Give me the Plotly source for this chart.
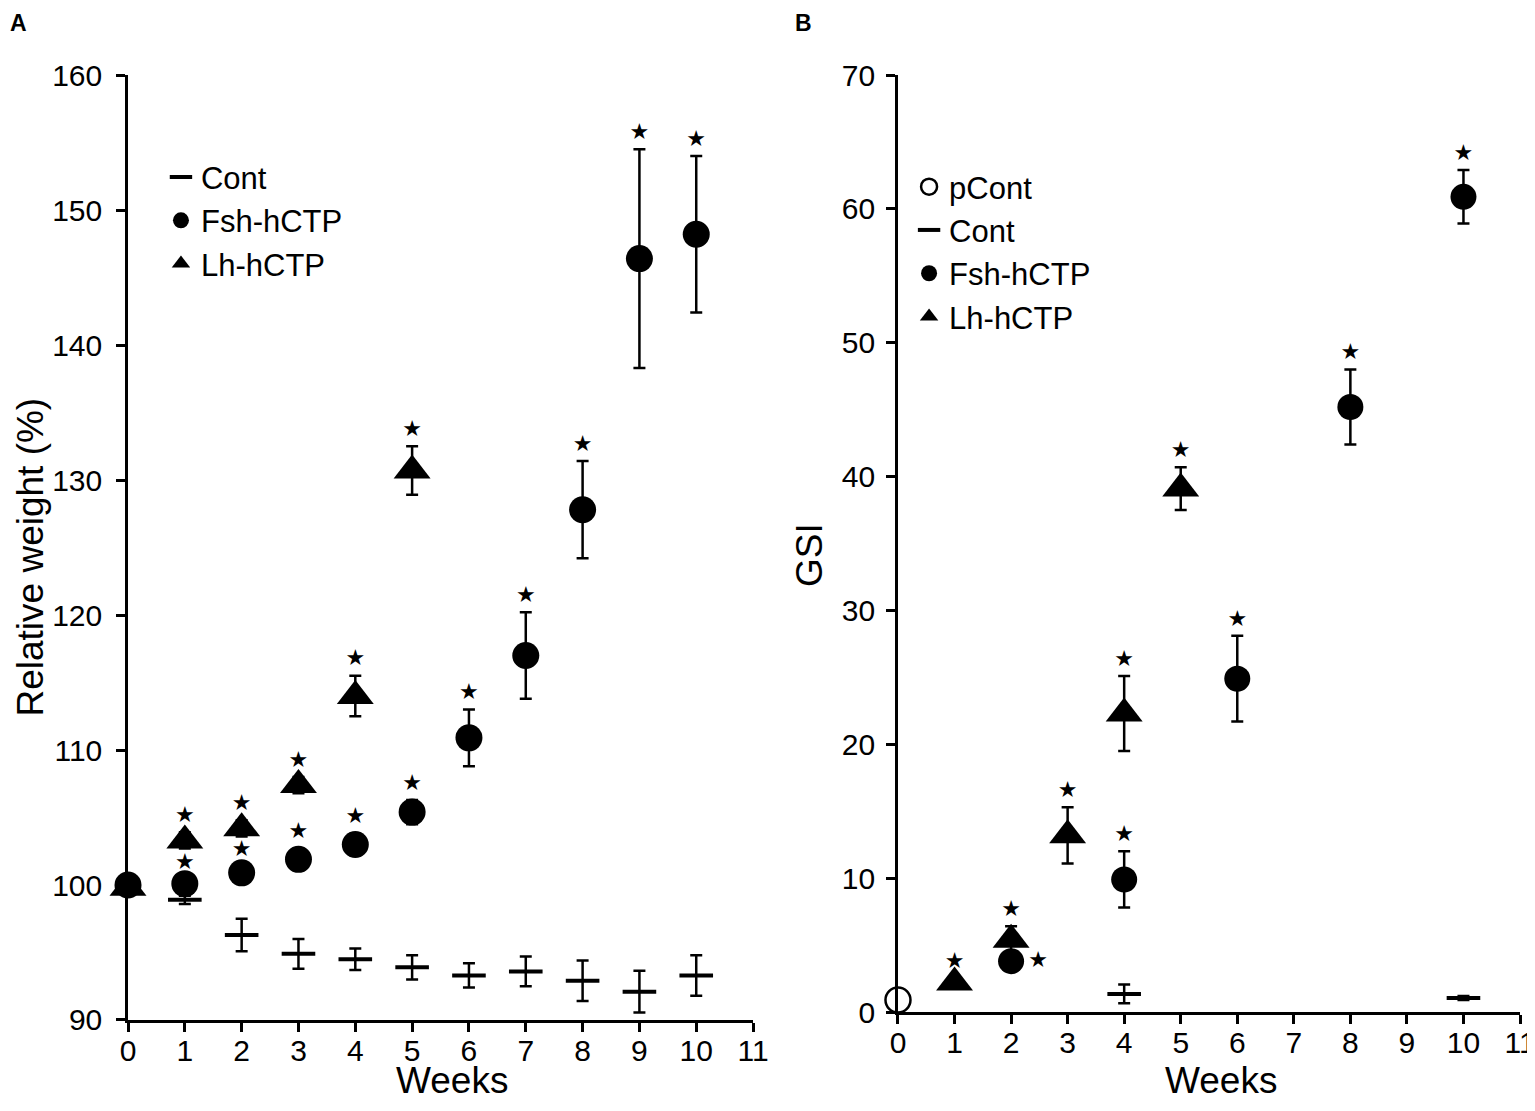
import plotly.graph_objects as go

# ---------------- Panel A : Relative weight (%) ----------------
weeks_cont_A = [1, 2, 3, 4, 5, 6, 7, 8, 9, 10]
cont_A = [98.9, 96.3, 94.9, 94.5, 93.9, 93.3, 93.6, 92.9, 92.1, 93.3]
cont_A_err = [0.3, 1.2, 1.1, 0.8, 0.9, 0.9, 1.1, 1.5, 1.55, 1.5]

weeks_fsh_A = [0, 1, 2, 3, 4, 5, 6, 7, 8, 9, 10]
fsh_A = [100.0, 100.1, 100.9, 101.9, 103.0, 105.4, 110.9, 117.0, 127.8, 146.4, 148.2]
fsh_A_err = [0.0, 0.3, 0.5, 0.8, 0.8, 0.9, 2.1, 3.2, 3.6, 8.1, 5.8]
fsh_A_sig = [False, True, True, True, True, True, True, True, True, True, True]

weeks_lh_A = [0, 1, 2, 3, 4, 5]
lh_A = [99.8, 103.3, 104.2, 107.4, 114.0, 130.7]
lh_A_err = [0.0, 0.6, 0.6, 0.6, 1.5, 1.8]
lh_A_sig = [False, True, True, True, True, True]

# ---------------- Panel B : GSI ----------------
weeks_pcont_B = [0]
pcont_B = [0.9]

weeks_cont_B = [4, 10]
cont_B = [1.35, 1.05]
cont_B_err = [0.7, 0.15]

weeks_fsh_B = [2, 4, 6, 8, 10]
fsh_B = [3.8, 9.9, 24.9, 45.2, 60.9]
fsh_B_err = [0.4, 2.1, 3.2, 2.8, 2.0]
fsh_B_starpos = ["middle right", "top center", "top center", "top center", "top center"]

weeks_lh_B = [1, 2, 3, 4, 5]
lh_B = [2.2, 5.4, 13.2, 22.3, 39.1]
lh_B_err = [0.3, 1.0, 2.1, 2.8, 1.6]

x_ticks = list(range(0, 12))
yA_ticks = [90, 100, 110, 120, 130, 140, 150, 160]
yB_ticks = [0, 10, 20, 30, 40, 50, 60, 70]

FONT = "Liberation Sans, Arial, Helvetica, sans-serif"
BLACK = "#000000"

fig = go.Figure()


def err(vals):
    return dict(type="data", array=vals, visible=True, color=BLACK,
                thickness=2.5, width=6)


def add_series(x, y, e, name, symbol, size, xa, ya, legend, fill=BLACK, lw=0):
    fig.add_trace(go.Scatter(
        x=x, y=y, mode="markers", name=name, xaxis=xa, yaxis=ya,
        legend=legend, cliponaxis=False,
        error_y=err(e) if e is not None else None,
        marker=dict(symbol=symbol, size=size, color=fill,
                    line=dict(color=BLACK, width=lw)),
    ))


def add_stars(x, y, e, sig, xa, ya, pos="top center"):
    xs, ys, ps, ss = [], [], [], []
    for i in range(len(x)):
        if sig[i]:
            p = pos[i] if isinstance(pos, list) else pos
            xs.append(x[i])
            ps.append(p)
            if p == "middle right":
                ys.append(y[i])
                ss.append(26)
            else:
                ys.append(y[i] + e[i])
                ss.append(6)
    fig.add_trace(go.Scatter(
        x=xs, y=ys, mode="markers+text", text=["★"] * len(xs), textposition=ps,
        marker=dict(size=ss, color="rgba(0,0,0,0)", opacity=0,
                    line=dict(width=0, color="rgba(0,0,0,0)")),
        textfont=dict(size=22, color=BLACK, family="DejaVu Sans"),
        xaxis=xa, yaxis=ya, showlegend=False, cliponaxis=False,
        hoverinfo="skip",
    ))


# Panel A
add_series(weeks_cont_A, cont_A, cont_A_err, "Cont", "line-ew", 24, "x", "y", "legend", lw=4)
add_series(weeks_fsh_A, fsh_A, fsh_A_err, "Fsh-hCTP", "circle", 27, "x", "y", "legend")
add_series(weeks_lh_A, lh_A, lh_A_err, "Lh-hCTP", "triangle-up", 32, "x", "y", "legend")
add_stars(weeks_fsh_A, fsh_A, fsh_A_err, fsh_A_sig, "x", "y")
add_stars(weeks_lh_A, lh_A, lh_A_err, lh_A_sig, "x", "y")

# Panel B
add_series(weeks_pcont_B, pcont_B, None, "pCont", "circle", 25, "x2", "y2", "legend2",
           fill="#ffffff", lw=2.5)
add_series(weeks_cont_B, cont_B, cont_B_err, "Cont", "line-ew", 24, "x2", "y2", "legend2", lw=4)
add_series(weeks_fsh_B, fsh_B, fsh_B_err, "Fsh-hCTP", "circle", 26, "x2", "y2", "legend2")
add_series(weeks_lh_B, lh_B, lh_B_err, "Lh-hCTP", "triangle-up", 32, "x2", "y2", "legend2")
add_stars(weeks_fsh_B, fsh_B, fsh_B_err, [True] * len(fsh_B), "x2", "y2", fsh_B_starpos)
add_stars(weeks_lh_B, lh_B, lh_B_err, [True] * len(lh_B), "x2", "y2")

axis_common = dict(
    showline=True, linecolor=BLACK, linewidth=2.5, mirror=False,
    ticks="outside", ticklen=9, tickwidth=2.5, tickcolor=BLACK,
    showgrid=False, zeroline=False, automargin=False,
    ticklabeloverflow="allow",
    tickfont=dict(family=FONT, size=30, color=BLACK),
)
title_font = dict(family=FONT, size=37, color=BLACK)
leg_font = dict(family=FONT, size=31, color=BLACK)

fig.update_layout(
    width=1519, height=1095,
    paper_bgcolor="white", plot_bgcolor="white",
    margin=dict(l=0, r=0, t=0, b=0, autoexpand=False),
    font=dict(family=FONT, color=BLACK),
    xaxis=dict(domain=[0.0790, 0.4905], range=[0, 11], tickvals=x_ticks,
               ticklabelstandoff=-7, anchor="y", **axis_common),
    yaxis=dict(domain=[0.0758, 0.9388], range=[90, 160], tickvals=yA_ticks,
               ticklabelstandoff=8, anchor="x", **axis_common),
    xaxis2=dict(domain=[0.5859, 0.9954], range=[0, 11], tickvals=x_ticks,
                ticklabelstandoff=-7, anchor="y2", **axis_common),
    yaxis2=dict(domain=[0.0831, 0.9388], range=[0, 70], tickvals=yB_ticks,
                ticklabelstandoff=5, anchor="x2", **axis_common),
    legend=dict(x=0.1007, y=0.870, xanchor="left", yanchor="top",
                font=leg_font, itemwidth=30, tracegroupgap=0,
                bgcolor="rgba(0,0,0,0)"),
    legend2=dict(x=0.5932, y=0.8612, xanchor="left", yanchor="top",
                 font=leg_font, itemwidth=30, tracegroupgap=0,
                 bgcolor="rgba(0,0,0,0)"),
    annotations=[
        dict(text="<b>A</b>", x=0.0, y=1.0, xref="paper", yref="paper",
             xanchor="left", yanchor="top", showarrow=False,
             font=dict(family=FONT, size=23, color=BLACK)),
        dict(text="<b>B</b>", x=0.5165, y=1.0, xref="paper", yref="paper",
             xanchor="left", yanchor="top", showarrow=False,
             font=dict(family=FONT, size=23, color=BLACK)),
        # axis titles
        dict(text="Weeks", x=0.518, y=0.0, xref="x domain", yref="paper",
             xanchor="center", yanchor="bottom", showarrow=False,
             font=title_font),
        dict(text="Weeks", x=0.52, y=0.0, xref="x2 domain", yref="paper",
             xanchor="center", yanchor="bottom", showarrow=False,
             font=title_font),
        dict(text="Relative weight (%)", x=0.0, y=0.4986, xref="paper", yref="paper",
             xanchor="left", yanchor="middle", textangle=-90, showarrow=False,
             font=title_font),
        dict(text="GSI", x=0.528, y=0.5005, xref="paper", yref="paper",
             xanchor="center", yanchor="middle", textangle=-90, showarrow=False,
             font=title_font),
    ],
)

fig.write_html("out.html")
